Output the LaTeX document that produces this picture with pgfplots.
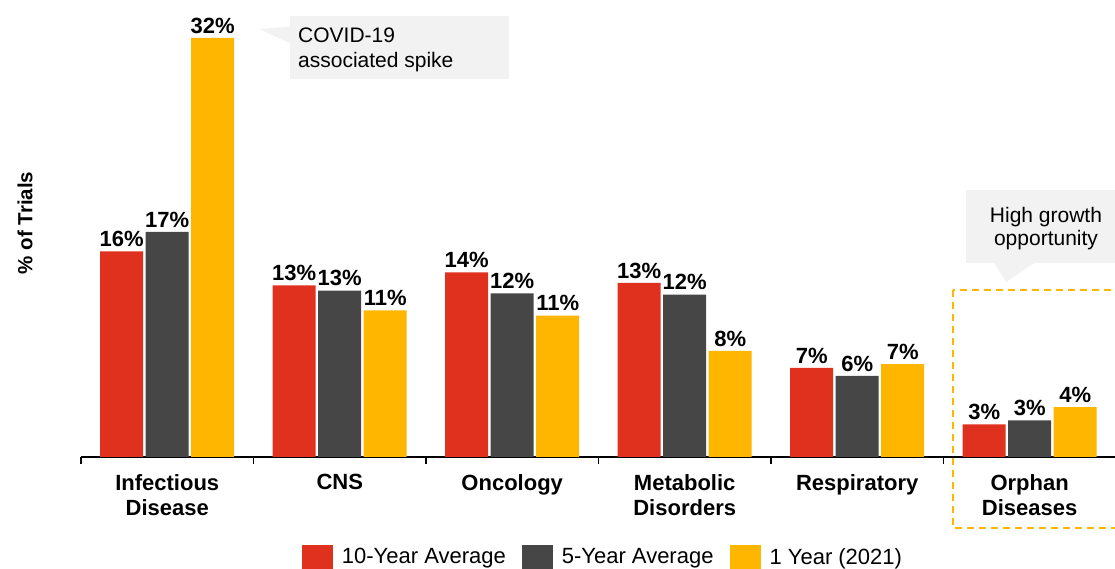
\documentclass[border=0pt]{standalone}
\usepackage{fontspec}
\setmainfont{Liberation Sans}
\usepackage{pgfplots}
\usepackage{pgfplotstable}
\pgfplotsset{compat=1.18}
\definecolor{pwcred}{HTML}{E0301E}
\definecolor{pwcdark}{HTML}{464646}
\definecolor{pwcyellow}{HTML}{FFB600}
\definecolor{callout}{HTML}{F2F2F2}
\pgfplotsset{sqlegend/.style={legend image code/.code={\fill[##1] (0pt,-19pt) rectangle (31pt,12pt);}}}

\pgfplotstableread{
x v l
0 15.7 16
1 13.1 13
2 14.1 14
3 13.3 13
4 6.8 7
5 2.5 3
}\tenyr
\pgfplotstableread{
x v l
0 17.2 17
1 12.7 13
2 12.5 12
3 12.4 12
4 6.2 6
5 2.8 3
}\fiveyr
\pgfplotstableread{
x v l
0 32.0 32
1 11.2 11
2 10.8 11
3 8.1 8
4 7.1 7
5 3.8 4
}\oneyr

\begin{document}
\begin{tikzpicture}[x=1pt,y=1pt]
\begin{axis}[
  at={(81pt,112pt)}, anchor=south west,
  scale only axis, width=1035pt, height=419pt,
  xmin=-0.5, xmax=5.5, ymin=0, ymax=32,
  enlargelimits=false,
  ybar=2.5pt, bar width=43pt,
  axis x line*=bottom, axis y line=none,
  x axis line style={line width=1.2pt, black},
  xtick={0,...,5},
  xticklabels={{Infectious\\Disease},CNS,Oncology,{Metabolic\\Disorders},Respiratory,{Orphan\\Diseases}},
  minor xtick={-0.5,0.5,...,5.5},
  major tick length=0pt, minor tick length=7pt, tick align=outside,
  every tick/.style={black, line width=1.2pt},
  every minor tick/.style={black, line width=1.2pt},
  xticklabel style={font=\fontsize{22}{25}\selectfont\bfseries, align=center, yshift=-14pt},
  ytick=\empty,
  clip=false,
  point meta=explicit symbolic,
  nodes near coords={\pgfplotspointmeta\%},
  every node near coord/.append style={font=\fontsize{22}{25}\selectfont\bfseries, black, yshift=1pt},
  legend columns=3,
  legend style={at={(0.2135,-0.2470)}, anchor=west, draw=none, fill=none,
    inner sep=0pt, outer sep=0pt, font=\fontsize{22}{25}\selectfont,
    nodes={inner sep=0pt},
    /tikz/every odd column/.append style={column sep=9pt},
    /tikz/every even column/.append style={column sep=16pt}},
]
\addplot[fill=pwcred, draw=none, sqlegend] table[x=x,y=v,meta=l]{\tenyr};
\addlegendentry{10-Year Average}
\addplot[fill=pwcdark, draw=none, sqlegend] table[x=x,y=v,meta=l]{\fiveyr};
\addlegendentry{5-Year Average}
\addplot[fill=pwcyellow, draw=none, sqlegend] table[x=x,y=v,meta=l]{\oneyr};
\addlegendentry{1 Year (2021)}
\end{axis}
% COVID callout
\fill[callout] (290,490) rectangle (509,553);
\fill[callout] (259,540) -- (290,542.3) -- (290,525.7) -- cycle;
\node[anchor=north west, align=left, inner sep=0pt, font=\fontsize{21}{25}\selectfont] at (298,541) {COVID-19\\associated spike};
% High growth callout
\fill[callout] (966,306) rectangle (1125,379);
\fill[callout] (994,306.5) -- (1035,306.5) -- (1006,287) -- cycle;
\node[anchor=north, align=center, inner sep=0pt, font=\fontsize{21}{23}\selectfont] at (1046,362) {High growth\\opportunity};
% dashed highlight
\draw[pwcyellow, line width=1.5pt, dash pattern=on 7pt off 5pt] (953,279) rectangle (1130,41);
% y label
\node[rotate=90, font=\fontsize{20.5}{24}\selectfont\bfseries] at (25,346) {\% of Trials};
\pgfresetboundingbox
\useasboundingbox (0,0) rectangle (1115,569);
\end{tikzpicture}
\end{document}
